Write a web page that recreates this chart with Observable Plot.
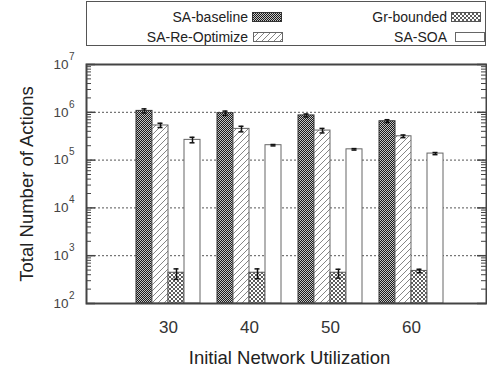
<!DOCTYPE html>
<html>
<head>
<meta charset="utf-8">
<script src="https://cdn.jsdelivr.net/npm/d3@7"></script>
<script src="https://cdn.jsdelivr.net/npm/@observablehq/plot@0.6"></script>
<style>
  html, body { margin: 0; padding: 0; background: #fff; overflow: hidden; }
  body { width: 487px; height: 372px; position: relative; font-family: "Liberation Sans", Arial, sans-serif; color: #222; }
  #legend { position: absolute; left: 86px; top: 1px; width: 398px; height: 43px; border: 1px solid #555; }
  .lt { position: absolute; font-size: 14px; line-height: 16px; text-align: right; width: 200px; white-space: nowrap; }
  #chart { position: absolute; left: 0; top: 47px; }
</style>
</head>
<body>
<svg width="0" height="0" style="position:absolute">
  <defs>
    <pattern id="pBase" width="2" height="2" patternUnits="userSpaceOnUse">
      <rect width="2" height="2" fill="#c4c4c4"/>
      <rect width="1" height="1" fill="#1a1a1a"/>
      <rect x="1" y="1" width="1" height="1" fill="#1a1a1a"/>
    </pattern>
    <pattern id="pReopt" width="6" height="6" patternUnits="userSpaceOnUse">
      <rect width="6" height="6" fill="#fff"/>
      <path d="M-1,7 L7,-1 M-1,1 L1,-1 M5,7 L7,5" stroke="#777" stroke-width="0.9"/>
    </pattern>
    <pattern id="pGr" width="4" height="4" patternUnits="userSpaceOnUse">
      <rect width="4" height="4" fill="#fff"/>
      <path d="M0,0 L4,4 M4,0 L0,4" stroke="#333" stroke-width="0.8"/>
    </pattern>
  </defs>
</svg>
<div id="legend"></div>
<div id="chart"></div>
<script>
// ---- data ----
const groups = ["30", "40", "50", "60"];
const seriesNames = ["SA-baseline", "SA-Re-Optimize", "Gr-bounded", "SA-SOA"];
const baseline     = [1.07e6, 9.6e5, 8.6e5, 6.5e5];
const baselineLo   = [0.97e6, 0.86e6, 0.80e6, 0.61e6];
const baselineHi   = [1.18e6, 1.06e6, 0.92e6, 0.70e6];
const reopt        = [5.3e5, 4.5e5, 4.15e5, 3.15e5];
const reoptLo      = [4.8e5, 3.9e5, 3.7e5, 2.95e5];
const reoptHi      = [5.9e5, 5.1e5, 4.6e5, 3.35e5];
const grBounded    = [440, 440, 440, 480];
const grLo         = [320, 330, 340, 440];
const grHi         = [530, 530, 520, 520];
const soa          = [2.65e5, 2.05e5, 1.68e5, 1.37e5];
const soaLo        = [2.3e5, 1.98e5, 1.62e5, 1.30e5];
const soaHi        = [3.0e5, 2.12e5, 1.74e5, 1.44e5];
const yTicks = [1e2, 1e3, 1e4, 1e5, 1e6, 1e7];
const yExponents = ["2", "3", "4", "5", "6", "7"];
const yGrid = [1e3, 1e4, 1e5, 1e6];
const yTitle = "Total Number of Actions";
const xTitle = "Initial Network Utilization";

const seriesValues = [baseline, reopt, grBounded, soa];
const seriesLo = [baselineLo, reoptLo, grLo, soaLo];
const seriesHi = [baselineHi, reoptHi, grHi, soaHi];
const fills = ["url(#pBase)", "url(#pReopt)", "url(#pGr)", "#fff"];
const strokes = ["#333", "#666", "#555", "#666"];

const yMin = 1e2, yMax = 1e7;
const minorTicks = [];
for (let e = 2; e < 7; e++) for (let k = 2; k <= 9; k++) minorTicks.push(k * 10 ** e);

// ---- layout ----
const W = 487, H = 325;
const mL = 86, mR = 1, mT = 17, mB = 69;
const frameW = W - mL - mR;
const bandW = 64, sub = 16;

const marks = [];
marks.push(Plot.ruleY(yGrid, {y: d => d, stroke: "#555", strokeWidth: 1, strokeDasharray: "2,2"}));
seriesNames.forEach((name, k) => {
  const data = groups.map((g, i) => ({g, v: seriesValues[k][i]}));
  marks.push(Plot.barY(data, {
    x: "g", y1: () => yMin, y2: "v",
    fill: fills[k], stroke: strokes[k], strokeWidth: 1,
    insetLeft: sub * k, insetRight: bandW - sub * (k + 1)
  }));
});
seriesNames.forEach((name, k) => {
  const data = groups.map((g, i) => ({g, lo: seriesLo[k][i], hi: seriesHi[k][i]}));
  const c = sub * k + sub / 2;
  marks.push(Plot.ruleX(data, {x: "g", y1: "lo", y2: "hi", dx: c - bandW / 2, stroke: "#111", strokeWidth: 1.5}));
  marks.push(Plot.tickY(data, {x: "g", y: "lo", insetLeft: c - 2.5, insetRight: bandW - c - 2.5, stroke: "#111", strokeWidth: 1.5}));
  marks.push(Plot.tickY(data, {x: "g", y: "hi", insetLeft: c - 2.5, insetRight: bandW - c - 2.5, stroke: "#111", strokeWidth: 1.5}));
});
marks.push(Plot.tickY(yTicks, {y: d => d, insetRight: frameW - 9, stroke: "#444", strokeWidth: 1.5}));
marks.push(Plot.tickY(minorTicks, {y: d => d, insetRight: frameW - 5, stroke: "#444", strokeWidth: 1}));
marks.push(Plot.tickY(yTicks, {y: d => d, insetLeft: frameW - 9, stroke: "#444", strokeWidth: 1.5}));
marks.push(Plot.tickY(minorTicks, {y: d => d, insetLeft: frameW - 5, stroke: "#444", strokeWidth: 1}));
marks.push(Plot.frame({stroke: "#444", strokeWidth: 2}));
marks.push(Plot.text(yTicks, {y: d => d, text: () => "10", frameAnchor: "left", dx: -18, textAnchor: "end", fontSize: 13.5, fill: "#444"}));
marks.push(Plot.text(yTicks, {y: d => d, text: (d, i) => yExponents[i], frameAnchor: "left", dx: -17.5, dy: -8, textAnchor: "start", fontSize: 10, fill: "#444"}));
marks.push(Plot.text([yTitle], {y: () => 10 ** 4.5, text: d => d, frameAnchor: "left", textAnchor: "middle", lineAnchor: "middle", dx: -59, rotate: -90, fontSize: 18.5, fill: "#222"}));
marks.push(Plot.text([xTitle], {text: d => d, frameAnchor: "bottom", textAnchor: "middle", lineAnchor: "middle", dx: 3, dy: 55, fontSize: 18.5, fill: "#222"}));

const chart = Plot.plot({
  width: W, height: H,
  marginLeft: mL, marginRight: mR, marginTop: mT, marginBottom: mB,
  style: {fontFamily: "Liberation Sans, Arial, sans-serif", fontSize: "17px", color: "#333", background: "#fff"},
  x: {domain: groups, paddingInner: 0.21, paddingOuter: 0.574, align: 0.538, tickSize: 0, tickPadding: 17, label: null},
  y: {type: "log", domain: [yMin, yMax], axis: null},
  marks
});
document.getElementById("chart").appendChild(chart);

// ---- legend ----
const legend = document.getElementById("legend");
const legendPos = [
  {textRight: 248, sw: 252, top: 7},
  {textRight: 248, sw: 253, top: 27},
  {textRight: 447, sw: 451, top: 7},
  {textRight: 447, sw: 455, top: 27}
];
seriesNames.forEach((name, k) => {
  const p = legendPos[k];
  const t = document.createElement("div");
  t.className = "lt";
  t.textContent = name;
  t.style.left = (p.textRight - 87 - 200) + "px";
  t.style.top = p.top + "px";
  legend.appendChild(t);
  const s = document.createElementNS("http://www.w3.org/2000/svg", "svg");
  s.setAttribute("width", 30); s.setAttribute("height", 11);
  s.style.position = "absolute";
  s.style.left = (p.sw - 87) + "px";
  s.style.top = (p.top + 3) + "px";
  const r = document.createElementNS("http://www.w3.org/2000/svg", "rect");
  r.setAttribute("x", 0.5); r.setAttribute("y", 0.5);
  r.setAttribute("width", 29); r.setAttribute("height", 9);
  r.setAttribute("fill", fills[k]); r.setAttribute("stroke", strokes[k]);
  s.appendChild(r);
  legend.appendChild(s);
});
</script>
</body>
</html>
